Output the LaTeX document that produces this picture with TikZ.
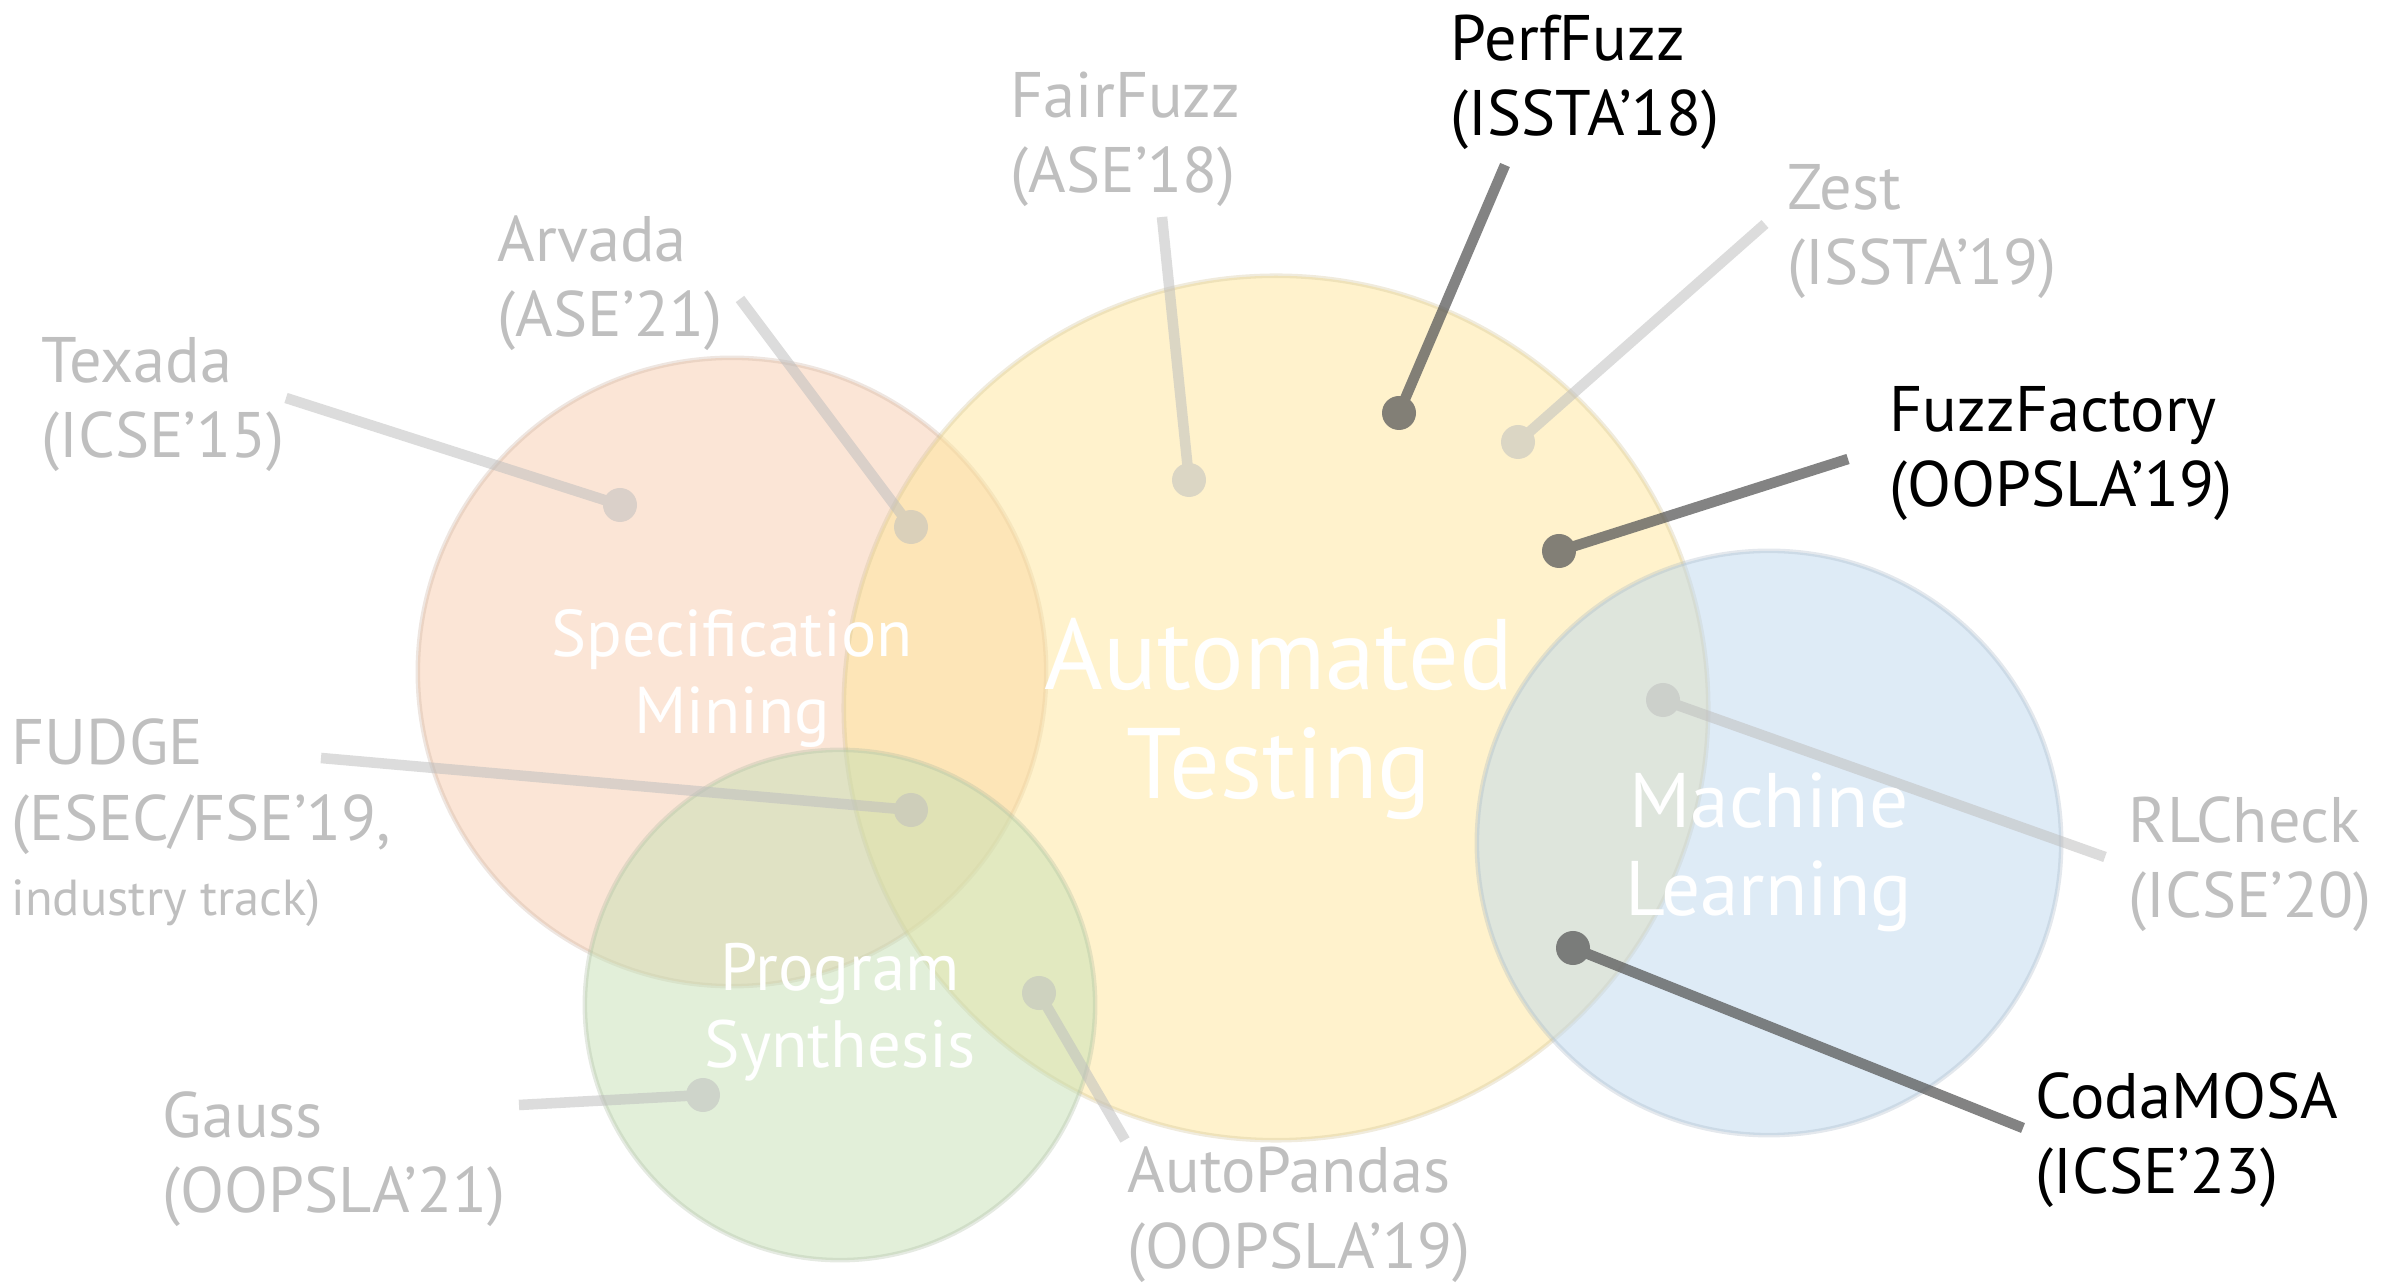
\documentclass[tikz,border=0pt]{standalone}
\usepackage{fontspec}
\setmainfont{PT Sans}
\usepackage{tikz}
\definecolor{mining}{HTML}{F8CBAD}
\definecolor{testing}{HTML}{FFE699}
\definecolor{synthesis}{HTML}{C5E0B4}
\definecolor{learning}{HTML}{BDD7EE}
\definecolor{faded}{HTML}{BFBFBF}
\definecolor{leadgray}{HTML}{595959}
\tikzset{%
  area/.style     = {shape=circle, inner sep=0pt, line width=1.3pt,%
                     fill opacity=0.5, draw opacity=0.3},%
  areatext/.style = {align=center, inner sep=0pt, text=white},%
  paper/.style    = {anchor=base west, align=left, inner sep=0pt,%
                     font=\fontsize{18.3}{21.6}\selectfont},%
  old/.style      = {paper, text=faded},%
  new/.style      = {paper, text=black},%
  dot/.style      = {circle, inner sep=0pt, minimum size=0.34cm},%
  lead/.style     = {line width=3pt}%
}
\begin{document}
\begin{tikzpicture}[x=0.01cm, y=-0.01cm]
  \useasboundingbox (0,0) rectangle (2381,1283);
  \node[area, fill=mining, draw=mining!60!gray, minimum size=6.28cm] (mining) at (732,672) {};
  \node[area, fill=testing, draw=testing!60!gray, minimum size=8.64cm] (testing) at (1276,708) {};
  \node[area, fill=synthesis, draw=synthesis!60!gray, minimum size=5.1cm] (synthesis) at (840,1005) {};
  \node[area, fill=learning, draw=learning!60!gray, minimum size=5.84cm] (learning) at (1769,843) {};

  \begin{scope}[transparency group, opacity=0.55]
    \node[dot, fill=faded] (texada-dot) at (620,505) {};
    \node[dot, fill=faded] (arvada-dot) at (911,527) {};
    \node[dot, fill=faded] (fairfuzz-dot) at (1189,480) {};
    \node[dot, fill=faded] (zest-dot) at (1518,442) {};
    \node[dot, fill=faded] (fudge-dot) at (911,810) {};
    \node[dot, fill=faded] (gauss-dot) at (703,1095) {};
    \node[dot, fill=faded] (autopandas-dot) at (1039,993) {};
    \node[dot, fill=faded] (rlcheck-dot) at (1663,700) {};
    \coordinate (texada-end) at (286,398);
    \coordinate (arvada-end) at (740,299);
    \coordinate (fairfuzz-end) at (1162,217);
    \coordinate (zest-end) at (1765,224);
    \coordinate (fudge-end) at (321,758);
    \coordinate (gauss-end) at (519,1105);
    \coordinate (autopandas-end) at (1125,1140);
    \coordinate (rlcheck-end) at (2105,857);
    \draw[lead, faded] (texada-end) -- (texada-dot.center);
    \draw[lead, faded] (arvada-end) -- (arvada-dot.center);
    \draw[lead, faded] (fairfuzz-end) -- (fairfuzz-dot.center);
    \draw[lead, faded] (zest-end) -- (zest-dot.center);
    \draw[lead, faded] (fudge-end) -- (fudge-dot.center);
    \draw[lead, faded] (gauss-end) -- (gauss-dot.center);
    \draw[lead, faded] (autopandas-end) -- (autopandas-dot.center);
    \draw[lead, faded] (rlcheck-end) -- (rlcheck-dot.center);
  \end{scope}
  \begin{scope}[transparency group, opacity=0.75]
    \node[dot, fill=leadgray] (perffuzz-dot) at (1399,413) {};
    \node[dot, fill=leadgray] (fuzzfactory-dot) at (1559,551) {};
    \node[dot, fill=leadgray] (codamosa-dot) at (1573,948) {};
    \coordinate (perffuzz-end) at (1505,165);
    \coordinate (fuzzfactory-end) at (1848,459);
    \coordinate (codamosa-end) at (2023,1128);
    \draw[lead, leadgray] (perffuzz-end) -- (perffuzz-dot.center);
    \draw[lead, leadgray] (fuzzfactory-end) -- (fuzzfactory-dot.center);
    \draw[lead, leadgray] (codamosa-end) -- (codamosa-dot.center);
  \end{scope}

  \node[areatext, font=\fontsize{18.8}{21.9}\selectfont] at (732,678) {Specification\\Mining};
  \node[areatext, font=\fontsize{28.5}{31}\selectfont] at (1279,719) {Automated\\Testing};
  \node[areatext, font=\fontsize{19}{21.9}\selectfont] at (840,1012) {Program\\Synthesis};
  \node[areatext, font=\fontsize{22}{25}\selectfont] at (1769,852) {Machine\\Learning};

  \node[old] (fairfuzz) at (1010,193) {FairFuzz\\(ASE’18)};
  \node[new] (perffuzz) at (1450,136) {PerfFuzz\\(ISSTA’18)};
  \node[old] (zest) at (1787,285) {Zest\\(ISSTA’19)};
  \node[old] (arvada) at (497,337) {Arvada\\(ASE’21)};
  \node[old] (texada) at (41,458) {Texada\\(ICSE’15)};
  \node[new] (fuzzfactory) at (1889,507) {FuzzFactory\\(OOPSLA’19)};
  \node[old] (fudge) at (11,916) {FUDGE\\(ESEC/FSE’19,\\{\fontsize{14.4}{21}\selectfont industry track)}};
  \node[old] (rlcheck) at (2128,918) {RLCheck\\(ICSE’20)};
  \node[old] (gauss) at (162,1213) {Gauss\\(OOPSLA’21)};
  \node[old] (autopandas) at (1127,1268) {AutoPandas\\(OOPSLA’19)};
  \node[new] (codamosa) at (2035,1194) {CodaMOSA\\(ICSE’23)};
\end{tikzpicture}
\end{document}
